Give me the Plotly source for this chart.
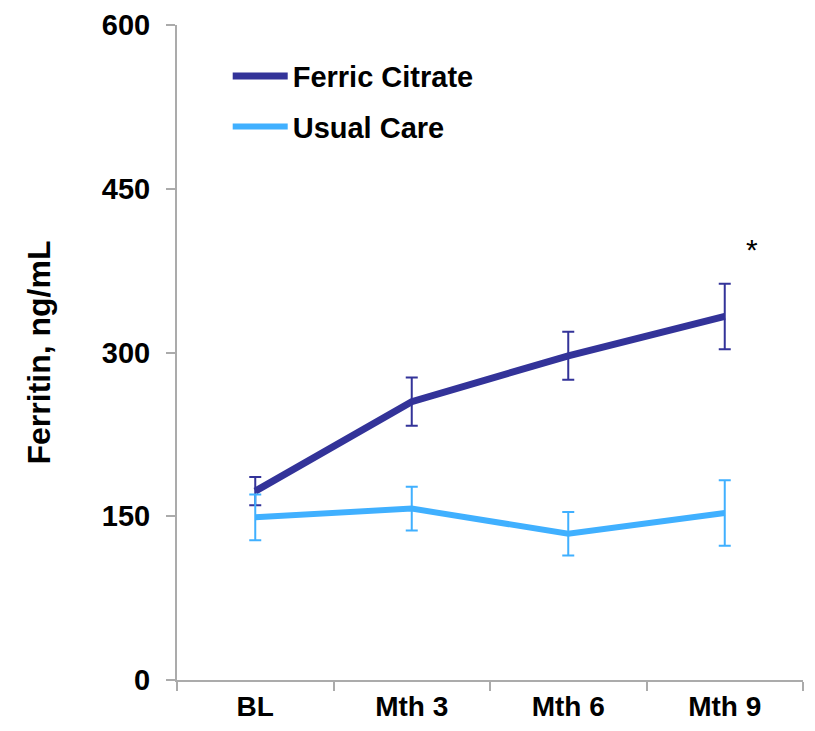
import plotly.graph_objects as go

visits = ['BL', 'Mth 3', 'Mth 6', 'Mth 9']

ferric_citrate = [173, 255, 297, 333]
ferric_citrate_err = [13, 22, 22, 30]

usual_care = [149, 157, 134, 153]
usual_care_err = [21, 20, 20, 30]

y_ticks = [0, 150, 300, 450, 600]

series = [
    ('Ferric Citrate', ferric_citrate, ferric_citrate_err, '#333399', 7),
    ('Usual Care', usual_care, usual_care_err, '#40B0FF', 6),
]

fig = go.Figure()

for name, vals, errs, color, width in series:
    fig.add_trace(
        go.Scatter(
            x=visits,
            y=vals,
            mode='lines',
            name=name,
            legendgroup=name,
            line=dict(color=color, width=width),
            error_y=dict(type='data', array=errs, visible=True,
                         color=color, thickness=2, width=6),
        )
    )

# significance marker at Mth 9
fig.add_annotation(x='Mth 9', y=394, text='*', showarrow=False, xshift=27,
                   font=dict(size=30, color='black'))

bold = dict(family='Arial, Liberation Sans, sans-serif', weight='bold', color='black')

# page has an 8px body margin, so the figure is sized to fit the window
fig.update_layout(
    width=799,
    height=715,
    margin=dict(l=169, r=4, t=17, b=43),
    plot_bgcolor='white',
    paper_bgcolor='white',
    font=dict(family='Arial, Liberation Sans, sans-serif', size=20, color='black'),
    showlegend=True,
    legend=dict(
        x=0.081, y=0.961, xanchor='left', yanchor='top',
        font=dict(size=29, **bold),
        tracegroupgap=10,
        bgcolor='rgba(0,0,0,0)',
        itemwidth=55,
    ),
    xaxis=dict(
        type='category',
        range=[-0.5, 3.5],
        showline=True, linecolor='#ABABAB', linewidth=2,
        ticks='outside', ticklen=9, tickcolor='#ABABAB', tickwidth=2,
        tickson='boundaries',
        showgrid=False,
        tickfont=dict(size=28, **bold),
        ticklabelstandoff=0,
        automargin=False,
    ),
    yaxis=dict(
        range=[0, 600],
        tickvals=y_ticks,
        showline=True, linecolor='#ABABAB', linewidth=2,
        ticks='outside', ticklen=9, tickcolor='#ABABAB', tickwidth=2,
        showgrid=False, zeroline=False,
        tickfont=dict(size=29, **bold),
        ticklabelstandoff=10,
        automargin=False,
        title=dict(text='Ferritin, ng/mL', font=dict(size=32, **bold), standoff=42),
    ),
)

fig.write_html("out.html")
